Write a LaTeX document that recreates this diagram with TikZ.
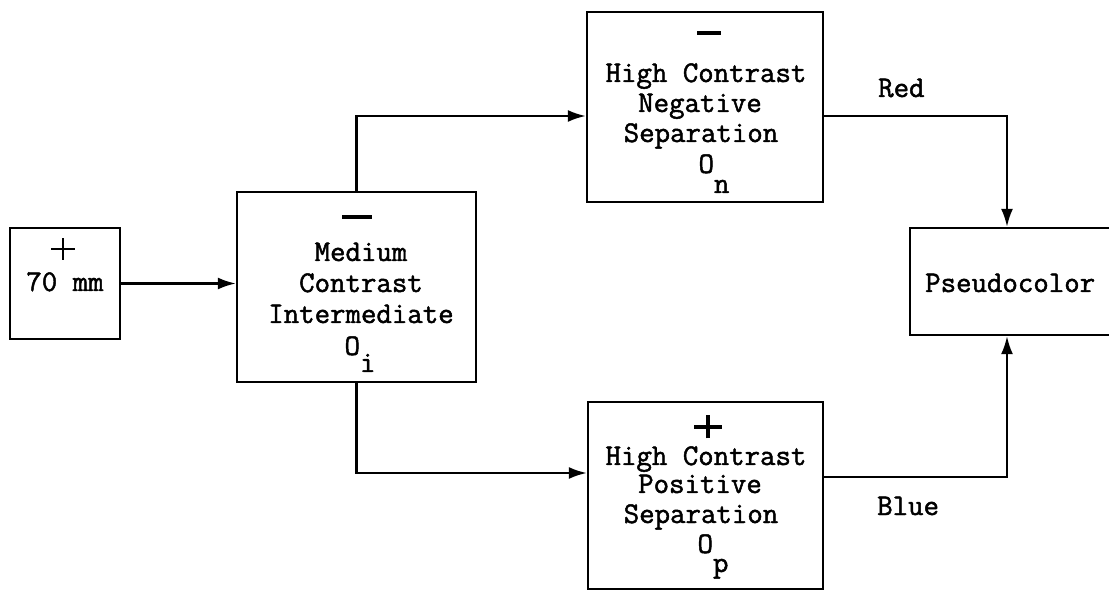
\documentclass[tikz,border=0pt]{standalone}
\usepackage{fontspec}
\newfontfamily\tw{Latin Modern Mono}[FakeBold=1.6]
\usetikzlibrary{arrows.meta}
\begin{document}
\begin{tikzpicture}[x=1pt,y=-1pt,
  box/.style={draw, line width=2.4pt, rectangle, inner sep=0pt},
  lbl/.style={font=\tw\fontsize{30}{32}\selectfont, anchor=base, inner sep=0pt},
  signmark/.style={inner sep=0pt, anchor=center},
  conn/.style={line width=2.2pt},
  arr/.style={conn,-{Latex[length=18pt,width=12pt]}},
]
\useasboundingbox (0,0) rectangle (1109,601);
\clip (0,0) rectangle (1109,601);
% boxes
\node[box, minimum width=110pt, minimum height=111pt] (a) at (65,283.5) {};
\node[box, minimum width=239pt, minimum height=190pt] (b) at (356.5,287) {};
\node[box, minimum width=236pt, minimum height=190pt] (n) at (705,107) {};
\node[box, minimum width=235pt, minimum height=187pt] (p) at (705.5,495.5) {};
\node[box, minimum width=220pt, minimum height=107pt] (c) at (1020,281.5) {};
% connectors
\draw[arr] (a.east) -- (a.east -| b.west);
\draw[arr] (b.north) |- ([yshift=-9pt]n.west);
\draw[arr] (b.south) |- ([yshift=22.5pt]p.west);
\draw[arr] ([yshift=-9pt]n.east) -| ([xshift=-13pt]c.north);
\draw[arr] ([yshift=18.5pt]p.east) -| ([xshift=-13pt]c.south);
% box a text
\node[signmark] (aplus) at (63,249) {\makebox[0pt]{\rule[-1.4pt]{24pt}{2.8pt}}\makebox[0pt]{\rule[-11pt]{2.8pt}{22pt}}};
\node[lbl] (atxt) at (65,291) {70 mm};
% box b text
\node[signmark] (bminus) at (357,217) {\rule{30pt}{3.5pt}};
\node[lbl] (b1) at (361,261) {Medium};
\node[lbl] (b2) at (361,292) {Contrast};
\node[lbl] (b3) at (361,323) {Intermediate};
\node[lbl] (b4) at (360,355) {O\raisebox{-17pt}{i}};
% box n text
\node[signmark] (nminus) at (709,33) {\rule{24pt}{3.5pt}};
\node[lbl] (n1) at (706,82) {High Contrast};
\node[lbl] (n2) at (700,112) {Negative};
\node[lbl] (n3) at (701,142) {Separation};
\node[lbl] (n4) at (714,173) {O\raisebox{-20pt}{n}};
% box p text
\node[signmark] (pplus) at (708,427) {\makebox[0pt]{\rule[-2pt]{28pt}{4pt}}\makebox[0pt]{\rule[-11.5pt]{4pt}{23pt}}};
\node[lbl] (p1) at (706,465) {High Contrast};
\node[lbl] (p2) at (700,493) {Positive};
\node[lbl] (p3) at (701,523) {Separation};
\node[lbl] (p4) at (713,553) {O\raisebox{-19pt}{p}};
% box c text
\node[lbl, anchor=base west] (ctxt) at (925,292) {Pseudocolor};
% connector labels
\node[lbl, anchor=base west] (red) at (878,97) {Red};
\node[lbl, anchor=base west] (blue) at (877,515) {Blue};
\end{tikzpicture}
\end{document}
